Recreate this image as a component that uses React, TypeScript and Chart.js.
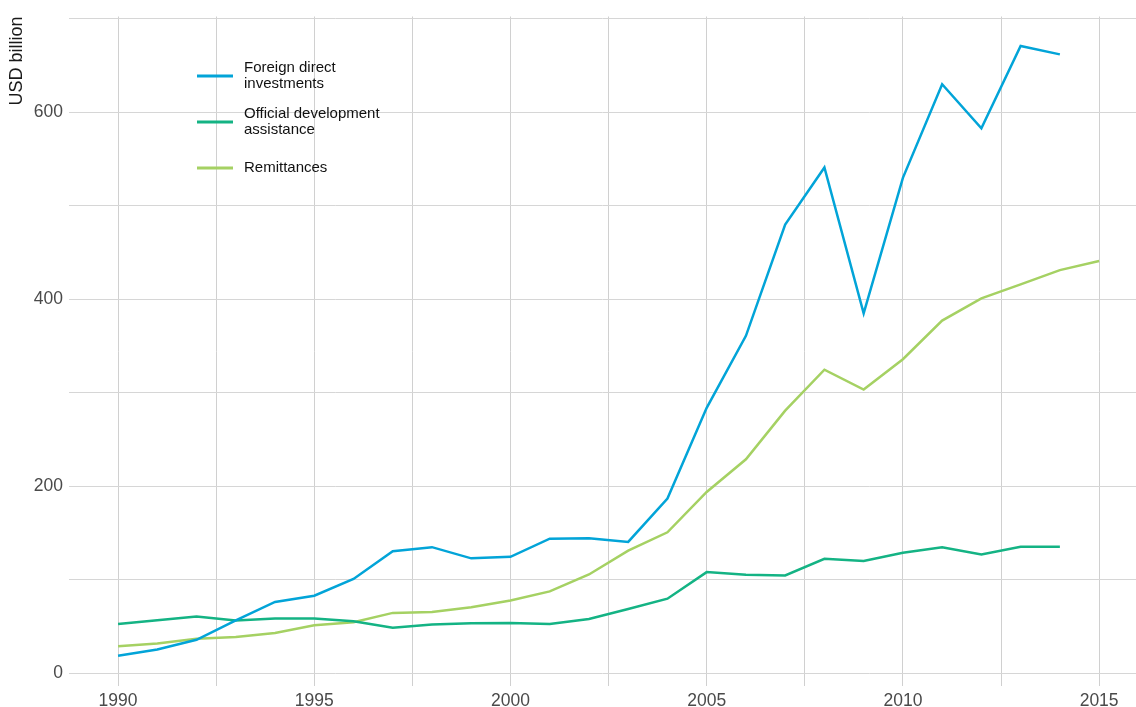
import React, { useEffect, useRef } from "react";
import { Chart, registerables } from "chart.js";

Chart.register(...registerables);

const years = [
  1990, 1991, 1992, 1993, 1994, 1995, 1996, 1997, 1998, 1999, 2000, 2001, 2002,
  2003, 2004, 2005, 2006, 2007, 2008, 2009, 2010, 2011, 2012, 2013, 2014, 2015,
];

const fdi = [
  18.8, 25.6, 35.9, 56.8, 76.4, 83.1, 101, 130.7, 135, 123, 124.7, 144, 144.5,
  140.6, 187, 284, 361, 480, 541, 385, 530, 630, 583, 671, 662,
];

const oda = [
  52.9, 56.8, 60.7, 56.5, 58.6, 58.6, 55.8, 48.7, 52.2, 53.6, 54, 52.9, 58.2,
  68.9, 79.9, 108.3, 105.4, 104.7, 122.5, 120.3, 128.9, 134.9, 127.1, 135.3, 135.3,
];

const remittances = [
  29.1, 32, 37, 39, 43.3, 51.5, 54.7, 64.7, 65.7, 70.7, 78, 87.7, 105.8, 131.3,
  150.9, 194, 229, 281, 324.8, 303.5, 336, 377.3, 401, 416, 431.3, 441,
];

const seriesLabels = [
  ["Foreign direct", "investments"],
  ["Official development", "assistance"],
  ["Remittances"],
];
const seriesColors = ["#02a4d8", "#14b384", "#a5d163"];

const yTicks = [0, 100, 200, 300, 400, 500, 600, 700];
const xTicks = [1990, 1992.5, 1995, 1997.5, 2000, 2002.5, 2005, 2007.5, 2010, 2012.5, 2015];

const yTitle = "USD billion";

const FONT = "'Liberation Sans', Arial, Helvetica, sans-serif";

const legendPlugin = {
  id: "customLegend",
  afterDraw(chart: any) {
    const ctx = chart.ctx;
    ctx.save();
    const x0 = 197;
    const x1 = 233;
    const tx = 244;
    const ys = [76, 122, 168];
    chart.data.datasets.forEach((ds: any, i: number) => {
      const y = ys[i];
      ctx.strokeStyle = ds.borderColor;
      ctx.lineWidth = 3;
      ctx.beginPath();
      ctx.moveTo(x0, y);
      ctx.lineTo(x1, y);
      ctx.stroke();
      const lines: string[] = ds.legendLines;
      ctx.fillStyle = "#111111";
      ctx.font = `15px ${FONT}`;
      ctx.textBaseline = "middle";
      ctx.textAlign = "left";
      const lh = 16;
      const start = y - ((lines.length - 1) * lh) / 2;
      lines.forEach((t, k) => ctx.fillText(t, tx, start + k * lh));
    });
    ctx.restore();
  },
};

export default function App() {
  const ref = useRef<HTMLCanvasElement | null>(null);

  useEffect(() => {
    if (!ref.current) return;
    const series = [fdi, oda, remittances];
    const chart = new Chart(ref.current, {
      type: "line",
      data: {
        datasets: series.map((vals, i) => ({
          label: seriesLabels[i].join(" "),
          legendLines: seriesLabels[i],
          data: vals.map((v, k) => ({ x: years[k], y: v })),
          borderColor: seriesColors[i],
          backgroundColor: seriesColors[i],
          borderWidth: 2.5,
          pointRadius: 0,
          tension: 0,
          fill: false,
        })) as any,
      },
      options: {
        animation: false,
        responsive: true,
        maintainAspectRatio: false,
        layout: { padding: { top: 14, right: 0, bottom: 0, left: 0 } },
        plugins: {
          legend: { display: false },
          tooltip: { enabled: false },
        },
        scales: {
          x: {
            type: "linear",
            min: 1988.75,
            max: 2015.94,
            border: { display: false },
            grid: { color: "#d0d0d0", lineWidth: 1, drawTicks: false },
            afterBuildTicks: (s: any) => {
              s.ticks = xTicks.map((v) => ({ value: v }));
            },
            afterFit: (s: any) => {
              s.height = 21;
            },
            ticks: {
              autoSkip: false,
              maxRotation: 0,
              padding: 5,
              color: "#4a4a4a",
              font: { family: FONT, size: 17.5 },
              callback: (v: any) => (Number(v) % 5 === 0 ? String(v) : ""),
            },
          },
          y: {
            type: "linear",
            min: -13.5,
            max: 702.5,
            border: { display: false },
            grid: { color: "#d6d6d6", lineWidth: 1, drawTicks: false },
            afterBuildTicks: (s: any) => {
              s.ticks = yTicks.map((v) => ({ value: v }));
            },
            afterFit: (s: any) => {
              s.width = 69;
            },
            title: {
              display: true,
              text: yTitle,
              align: "end",
              color: "#1a1a1a",
              font: { family: FONT, size: 18 },
              padding: { top: 6, bottom: 0 },
            },
            ticks: {
              padding: 6,
              color: "#4a4a4a",
              font: { family: FONT, size: 17.5 },
              callback: (v: any) => (Number(v) % 200 === 0 ? String(v) : ""),
            },
          },
        },
      },
      plugins: [legendPlugin],
    });
    return () => chart.destroy();
  }, []);

  return (
    <div
      style={{
        position: "fixed",
        left: 0,
        top: 0,
        width: 1136,
        height: 707,
        background: "#ffffff",
      }}
    >
      <canvas ref={ref} />
    </div>
  );
}
